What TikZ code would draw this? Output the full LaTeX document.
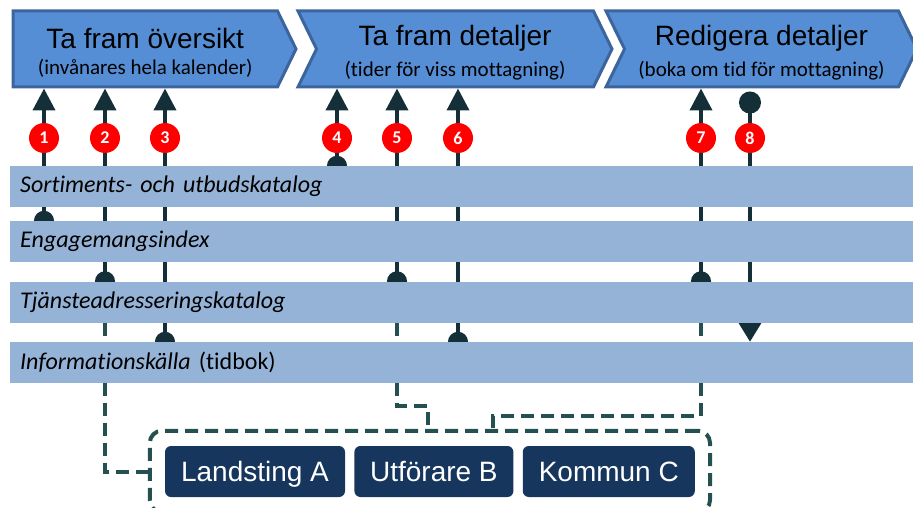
\documentclass[tikz,border=0pt]{standalone}
\usepackage{fontspec}
\setmainfont{Liberation Sans}
\newfontfamily\calib[Ligatures=NoCommon]{Carlito}
\usetikzlibrary{arrows.meta,positioning,fit,backgrounds,shapes.symbols}

\definecolor{chevfill}{HTML}{558ED5}
\definecolor{chevdraw}{HTML}{3B659C}
\definecolor{bandfill}{HTML}{95B3D7}
\definecolor{linecol}{HTML}{142F38}
\definecolor{dashcol}{HTML}{24504F}
\definecolor{actorfill}{HTML}{17365D}

\tikzset{
  % process steps
  chev/.style={signal,signal to=east,draw=chevdraw,fill=chevfill,line width=3pt,
    signal pointer angle=128,minimum height=76pt,inner sep=0pt,align=center},
  % register bands
  band/.style={fill=bandfill,anchor=west,minimum height=41pt,minimum width=910pt,
    text width=890pt,inner xsep=10pt,align=left,
    font=\calib\fontsize{24}{26}\selectfont\itshape},
  badge/.style={circle,fill=red,text=white,minimum size=30pt,inner sep=0pt,
    font=\calib\bfseries\fontsize{18}{18}\selectfont},
  % connectors
  upline/.style={line width=4pt,linecol,shorten <=-10pt,
    {Circle[length=20pt]}-{Triangle[length=22pt,width=22pt]}},
  downline/.style={line width=4pt,linecol,shorten <=3pt,
    {Circle[length=22pt]}-{Triangle[length=19pt,width=22pt]}},
  dashline/.style={line width=4pt,dashcol,dash pattern=on 13pt off 7pt},
  % actors
  actor/.style={fill=actorfill,text=white,rounded corners=6pt,minimum height=51pt,
    inner sep=0pt,text height=20pt,text depth=0pt,font=\fontsize{28}{30}\selectfont},
  orgbox/.style={draw=dashcol,line width=4pt,dash pattern=on 13pt off 7pt,
    rounded corners=12pt,inner sep=15pt},
}
\newcommand{\chevtext}[2]{{\fontsize{28}{30}\selectfont\rule{0pt}{28pt}#1}\\[9pt]{\calib\fontsize{21}{23}\selectfont #2}}

\begin{document}
\begin{tikzpicture}[x=1pt,y=1pt]
\useasboundingbox (0,0) rectangle (913,-508);

%% steps
\node[chev,anchor=west,minimum width=283pt] (oversikt) at (11.5,-49)
  {\chevtext{Ta fram översikt}{(invånares hela kalender)}};
\node[chev,signal from=west,minimum width=314pt] (detaljer) at (455,-49)
  {\chevtext{Ta fram detaljer}{(tider för viss mottagning)}};
\node[chev,signal from=west,minimum width=311pt] (redig) at (761.5,-49)
  {\chevtext{Redigera detaljer}{(boka om tid för mottagning)}};

%% bands
\node[band] (sortkat) at (10,-186.5) {Sortiments- och utbudskatalog};
\node[band] (engidx) at (10,-241.5) {Engagemangsindex};
\node[band] (tjadr) at (10,-302) {Tjänsteadresseringskatalog};
\node[band] (infokalla) at (10,-362.5) {Informationskälla\/ \upshape(tidbok)};

%% numbered badges
\foreach \i/\x in {1/44, 2/105, 3/165, 4/337, 5/397, 6/458, 7/701, 8/750}{
  \node[badge] (b\i) at (\x,-138) {\i};
}

%% actors
\node[actor,minimum width=180pt] (lands) at (255,-471.5) {Landsting A};
\node[actor,minimum width=159pt,right=9pt of lands] (utf) {Utförare B};
\node[actor,minimum width=172pt,right=9pt of utf] (komm) {Kommun C};
\node[orgbox,fit=(lands)(utf)(komm)] (org) {};

\coordinate (k5) at (428,-406);
\coordinate (k7) at (493,-416);

\begin{pgfonlayer}{background}
  \foreach \i/\src/\dst in {1/engidx/oversikt, 2/tjadr/oversikt, 3/infokalla/oversikt,
      4/sortkat/detaljer, 5/tjadr/detaljer, 6/infokalla/detaljer, 7/tjadr/redig}{
    \draw[upline] (b\i |- \src.north) -- (b\i |- \dst.south);
  }
  \draw[downline] (b8 |- redig.south) -- (b8 |- infokalla.north);
  % routes to the actors
  \draw[dashline] (b2 |- tjadr.south) |- (org.west);
  \draw[dashline] (b5 |- tjadr.south) |- (k5) -- (k5 |- org.north);
  \draw[dashline] (b7 |- tjadr.south) |- (k7) -- (k7 |- org.north);
\end{pgfonlayer}
\end{tikzpicture}
\end{document}
